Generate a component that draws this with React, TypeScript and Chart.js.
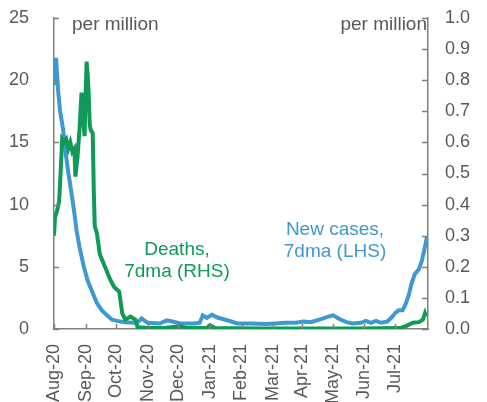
import React, { useEffect, useRef } from "react";
import { Chart, registerables } from "chart.js";

Chart.register(...registerables);

// Month ticks (day index from 1 Aug 2020)
const monthDays = [0, 31, 61, 92, 122, 153, 184, 215, 243, 274, 304, 335];
const monthLabels = ["Aug-20", "Sep-20", "Oct-20", "Nov-20", "Dec-20", "Jan-21", "Feb-21", "Mar-21", "Apr-21", "May-21", "Jun-21", "Jul-21"];

const leftTicks = [0, 5, 10, 15, 20, 25];
const rightTicks = [0, 0.1, 0.2, 0.3, 0.4, 0.5, 0.6, 0.7, 0.8, 0.9, 1.0];

// New cases per million, 7dma (LHS)
const caseDays = [0, 1, 2, 4, 6, 9, 11, 14, 17, 20, 22, 25, 29, 33, 38, 42, 47, 52, 57, 62, 69, 79, 83, 86, 90, 92, 104, 108, 111, 116, 124, 138, 143, 146, 150, 155, 161, 170, 180, 193, 208, 217, 227, 237, 245, 252, 262, 269, 274, 280, 287, 293, 301, 306, 311, 316, 321, 327, 331, 335, 338, 342, 345, 348, 351, 354, 358, 361, 364, 366];
const caseValues = [19.6, 20.5, 21.8, 19.2, 17.5, 16, 14.4, 12.6, 11, 9.3, 8, 6.6, 5.1, 3.9, 2.9, 2.1, 1.5, 1.1, 0.75, 0.65, 0.55, 0.5, 0.6, 0.85, 0.6, 0.5, 0.45, 0.6, 0.7, 0.6, 0.45, 0.45, 0.5, 1.1, 0.9, 1.15, 0.9, 0.7, 0.45, 0.45, 0.4, 0.45, 0.5, 0.5, 0.6, 0.55, 0.8, 1.0, 1.1, 0.8, 0.55, 0.45, 0.5, 0.65, 0.5, 0.65, 0.5, 0.6, 0.9, 1.3, 1.5, 1.5, 2.0, 2.7, 3.7, 4.4, 4.8, 5.5, 6.6, 7.4];

// Deaths per million, 7dma (RHS)
const deathDays = [0, 1, 3, 5, 6, 7, 8, 10, 12, 14, 16, 18, 20, 21, 23, 25, 27, 28, 30, 31, 32, 33, 34, 35, 36, 38, 39, 40, 42, 45, 50, 55, 59, 64, 67, 70, 75, 80, 82, 90, 100, 110, 124, 130, 150, 153, 158, 200, 300, 340, 346, 352, 358, 362, 364, 365];
const deathValues = [0.30, 0.36, 0.38, 0.41, 0.47, 0.54, 0.61, 0.60, 0.61, 0.58, 0.60, 0.57, 0.58, 0.49, 0.55, 0.64, 0.76, 0.70, 0.62, 0.75, 0.86, 0.82, 0.76, 0.66, 0.64, 0.63, 0.45, 0.33, 0.31, 0.24, 0.20, 0.16, 0.135, 0.12, 0.05, 0.03, 0.04, 0.03, 0.006, 0.004, 0.003, 0.004, 0.009, 0.003, 0.004, 0.012, 0.003, 0.002, 0.002, 0.003, 0.01, 0.02, 0.022, 0.03, 0.05, 0.04];

const BLUE = "#3f98d0";
const GREEN = "#109a57";
const AXIS = "#808080";
const TEXT = "#595959";
const FONT = "'Liberation Sans', Arial, sans-serif";

const overlay = {
  id: "overlay",
  afterDraw(chart: any) {
    const { ctx, chartArea, scales } = chart;
    ctx.save();
    ctx.strokeStyle = AXIS;
    ctx.lineWidth = 1.5;
    ctx.beginPath();
    monthDays.forEach((d) => {
      const px = Math.round(scales.x.getPixelForValue(d)) + 0.5;
      ctx.moveTo(px, chartArea.bottom);
      ctx.lineTo(px, chartArea.bottom - 5);
    });
    leftTicks.forEach((v) => {
      const py = Math.round(scales.y.getPixelForValue(v)) + 0.5;
      ctx.moveTo(chartArea.left, py);
      ctx.lineTo(chartArea.left + 5, py);
    });
    rightTicks.forEach((v) => {
      const py = Math.round(scales.y1.getPixelForValue(v)) + 0.5;
      ctx.moveTo(chartArea.right, py);
      ctx.lineTo(chartArea.right - 6, py);
    });
    ctx.stroke();

    ctx.font = `19px ${FONT}`;
    ctx.textBaseline = "middle";
    ctx.fillStyle = TEXT;
    ctx.textAlign = "left";
    ctx.fillText("per million", 72, 25);
    ctx.textAlign = "right";
    ctx.fillText("per million", 427, 25);

    ctx.textAlign = "center";
    ctx.fillStyle = GREEN;
    ctx.fillText("Deaths,", 177, 250);
    ctx.fillText("7dma (RHS)", 177, 272);
    ctx.fillStyle = BLUE;
    ctx.fillText("New cases,", 335, 230);
    ctx.fillText("7dma (LHS)", 335, 252);
    ctx.restore();
  },
};

export default function App() {
  const ref = useRef<HTMLCanvasElement>(null);
  useEffect(() => {
    if (!ref.current) return;
    Chart.defaults.font.family = FONT;
    const chart = new Chart(ref.current, {
      type: "line",
      data: {
        datasets: [
          {
            label: "Deaths, 7dma (RHS)",
            data: deathDays.map((d, i) => ({ x: d, y: deathValues[i] })),
            borderColor: GREEN,
            backgroundColor: GREEN,
            borderWidth: 4,
            pointRadius: 0,
            tension: 0,
            yAxisID: "y1",
          },
          {
            label: "New cases, 7dma (LHS)",
            data: caseDays.map((d, i) => ({ x: d, y: caseValues[i] })),
            borderColor: BLUE,
            backgroundColor: BLUE,
            borderWidth: 4,
            pointRadius: 0,
            tension: 0,
            yAxisID: "y",
          },
        ],
      },
      options: {
        responsive: false,
        animation: false,
        layout: { padding: { top: 18, left: 0, right: 0, bottom: 0 } },
        plugins: { legend: { display: false }, tooltip: { enabled: false } },
        scales: {
          x: {
            type: "linear",
            min: 0,
            max: 367,
            grid: { display: false },
            border: { display: true, color: AXIS, width: 1.5 },
            afterBuildTicks: (s: any) => {
              s.ticks = monthDays.map((v) => ({ value: v }));
            },
            afterFit: (s: any) => {
              s.height = 73;
              s.paddingLeft = 0;
              s.paddingRight = 0;
            },
            ticks: {
              autoSkip: false,
              minRotation: 90,
              maxRotation: 90,
              padding: 7,
              color: TEXT,
              font: { size: 18, family: FONT },
              callback: (_v: any, i: number) => monthLabels[i],
            },
          },
          y: {
            type: "linear",
            position: "left",
            min: 0,
            max: 25,
            grid: { display: false },
            border: { display: true, color: AXIS, width: 1.5 },
            afterBuildTicks: (s: any) => {
              s.ticks = leftTicks.map((v) => ({ value: v }));
            },
            afterFit: (s: any) => {
              s.width = 54;
              s.paddingTop = 0;
              s.paddingBottom = 0;
            },
            ticks: {
              padding: 17,
              color: TEXT,
              font: { size: 18, family: FONT },
            },
          },
          y1: {
            type: "linear",
            position: "right",
            min: 0,
            max: 1,
            grid: { display: false },
            border: { display: true, color: AXIS, width: 1.5 },
            afterBuildTicks: (s: any) => {
              s.ticks = rightTicks.map((v) => ({ value: v }));
            },
            afterFit: (s: any) => {
              s.width = 59;
              s.paddingTop = 0;
              s.paddingBottom = 0;
            },
            ticks: {
              padding: 9,
              color: TEXT,
              font: { size: 18, family: FONT },
              callback: (v: any) => Number(v).toFixed(1),
            },
          },
        },
      },
      plugins: [overlay],
    });
    return () => chart.destroy();
  }, []);
  return (
    <div style={{ position: "absolute", left: 0, top: 0, width: 487, height: 402 }}>
      <canvas ref={ref} width={487} height={402} style={{ display: "block" }} />
    </div>
  );
}
